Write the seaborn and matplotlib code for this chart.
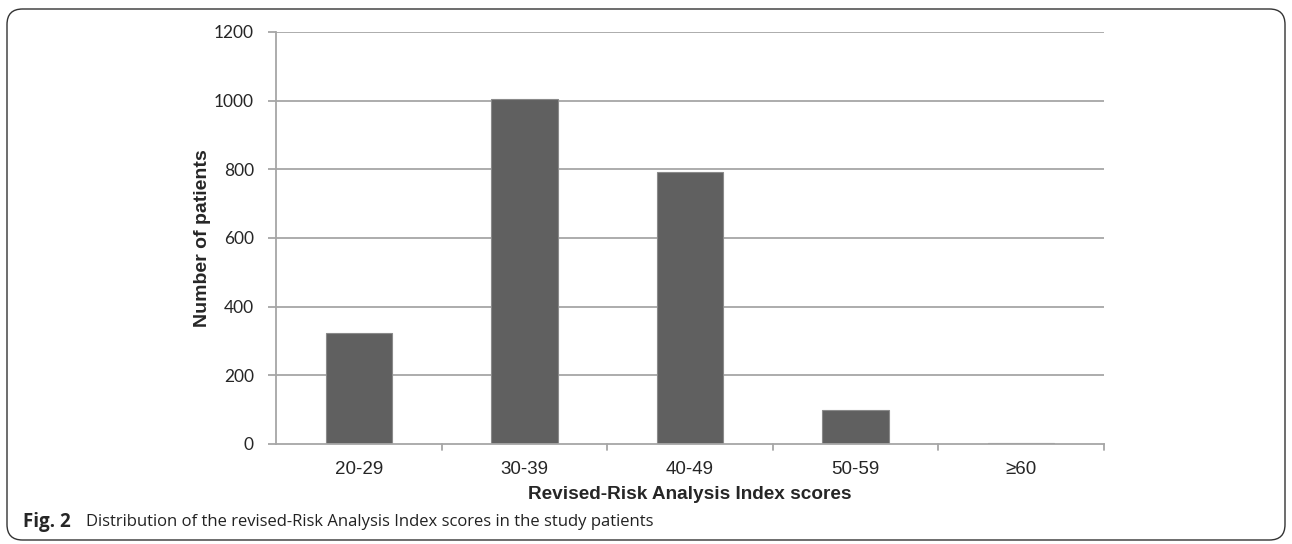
import matplotlib
matplotlib.use("Agg")
import matplotlib.pyplot as plt
from matplotlib.patches import FancyBboxPatch
import seaborn as sns
import pandas as pd

categories = ["20-29", "30-39", "40-49", "50-59", "\u226560"]
patients = [323, 1004, 791, 98, 4]
y_ticks = [0, 200, 400, 600, 800, 1000, 1200]

sns.set_theme(style="white")
plt.rcParams["font.family"] = ["Liberation Sans", "DejaVu Sans"]

df = pd.DataFrame({"score": categories, "count": patients})

fig = plt.figure(figsize=(12.92, 5.44), dpi=100)
ax = fig.add_axes([276 / 1292, 1 - 444 / 544, 828 / 1292, 412 / 544])

grid_col = "#a6a6a6"
for v in y_ticks[1:]:
    ax.axhline(v, color=grid_col, lw=1.3, zorder=0)

sns.barplot(data=df, x="score", y="count", color="#606060", width=0.4,
            edgecolor="#8a8a8a", linewidth=0.8, saturation=1, ax=ax, zorder=2)

ax.set_xlim(-0.5, len(categories) - 0.5)
ax.set_ylim(0, 1200)
ax.set_yticks(y_ticks)
ax.set_yticklabels([str(v) for v in y_ticks], family=["Lato", "DejaVu Sans"], fontsize=12.5)
ax.set_xticks(range(len(categories)))
ax.set_xticklabels(categories, fontsize=13.5)
ax.tick_params(axis="x", length=0, pad=12)
ax.tick_params(axis="y", length=6, color=grid_col, width=1.3, pad=10, left=True)

# boundary ticks between categories
for b in [i + 0.5 for i in range(len(categories))]:
    ax.plot([b, b], [0, -0.014], transform=ax.get_xaxis_transform(),
            color=grid_col, lw=1.3, clip_on=False)

for side in ["top", "right"]:
    ax.spines[side].set_visible(False)
for side in ["left", "bottom"]:
    ax.spines[side].set_visible(True)
    ax.spines[side].set_color(grid_col)
    ax.spines[side].set_linewidth(1.3)

ax.set_xlabel("Revised-Risk Analysis Index scores", fontsize=13.7, fontweight="bold", labelpad=6)
ax.set_ylabel("Number of patients", fontsize=14, fontweight="bold", labelpad=2)

# rounded frame around the figure
frame = FancyBboxPatch((7 / 1292, 4 / 544), 1278 / 1292, 531 / 544,
                       boxstyle="round,pad=0,rounding_size=0.012",
                       transform=fig.transFigure, fill=False,
                       edgecolor="#333333", lw=1.0, mutation_aspect=1292 / 544)
fig.patches.append(frame)

fig.text(23 / 1292, 1 - 522 / 544, "Fig. 2", fontsize=13.5, fontweight="bold",
         family=["Open Sans", "DejaVu Sans"], va="center", ha="left")
fig.text(86 / 1292, 1 - 522 / 544,
         "Distribution of the revised-Risk Analysis Index scores in the study patients",
         fontsize=12, family=["Open Sans", "DejaVu Sans"], va="center", ha="left",
         color="#222222")

fig.savefig("out.png", dpi=100)
